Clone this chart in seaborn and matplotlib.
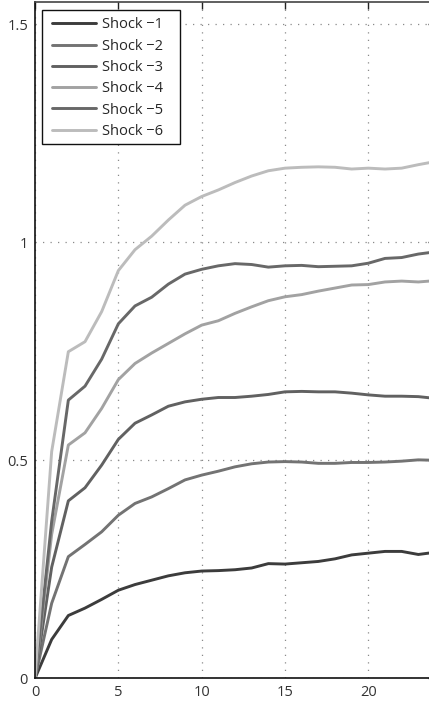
import numpy as np
import pandas as pd
import matplotlib
matplotlib.use("Agg")
import matplotlib.pyplot as plt
from matplotlib.patches import Rectangle
import seaborn as sns

# Horizon (periods after the shock)
periods = list(range(25))

# Cumulative responses, one list per shock size
shock_1 = [0.0, 0.089, 0.144, 0.161, 0.181, 0.202, 0.215, 0.225, 0.235, 0.242,
           0.246, 0.247, 0.249, 0.253, 0.263, 0.262, 0.265, 0.268, 0.274, 0.283,
           0.287, 0.291, 0.291, 0.284, 0.289]
shock_2 = [0.0, 0.172, 0.279, 0.307, 0.336, 0.374, 0.401, 0.416, 0.435, 0.455,
           0.466, 0.475, 0.485, 0.492, 0.496, 0.497, 0.496, 0.493, 0.493, 0.495,
           0.495, 0.496, 0.498, 0.501, 0.500]
shock_3 = [0.0, 0.255, 0.407, 0.437, 0.489, 0.548, 0.585, 0.604, 0.624, 0.634,
           0.640, 0.644, 0.644, 0.647, 0.651, 0.657, 0.658, 0.657, 0.657, 0.654,
           0.650, 0.647, 0.647, 0.646, 0.642]
shock_4 = [0.0, 0.330, 0.535, 0.563, 0.619, 0.685, 0.722, 0.746, 0.768, 0.790,
           0.810, 0.820, 0.837, 0.852, 0.866, 0.875, 0.880, 0.888, 0.895, 0.902,
           0.903, 0.909, 0.911, 0.909, 0.912]
shock_5 = [0.0, 0.360, 0.638, 0.670, 0.732, 0.813, 0.854, 0.874, 0.904, 0.927,
           0.938, 0.946, 0.951, 0.949, 0.943, 0.946, 0.947, 0.944, 0.945, 0.946,
           0.952, 0.963, 0.965, 0.973, 0.978]
shock_6 = [0.0, 0.520, 0.749, 0.772, 0.841, 0.935, 0.983, 1.014, 1.051, 1.085,
           1.105, 1.120, 1.137, 1.152, 1.164, 1.170, 1.172, 1.173, 1.172, 1.168,
           1.170, 1.168, 1.170, 1.178, 1.185]

labels = ["Shock \u22121", "Shock \u22122", "Shock \u22123",
          "Shock \u22124", "Shock \u22125", "Shock \u22126"]
series = [shock_1, shock_2, shock_3, shock_4, shock_5, shock_6]
colors = ["#3c3c3c", "#737373", "#616161", "#a2a2a2", "#686868", "#bcbcbc"]

xticks = [0, 5, 10, 15, 20]
yticks = [0, 0.5, 1, 1.5]
ytick_labels = ["0", "0.5", "1", "1.5"]

df = pd.concat(
    [pd.DataFrame({"period": periods, "response": s, "shock": lab})
     for s, lab in zip(series, labels)],
    ignore_index=True,
)

sns.set_style("white")
plt.rcParams["font.family"] = ["Open Sans", "DejaVu Sans"]

W, H = 429, 704
fig = plt.figure(figsize=(W / 100, H / 100), dpi=100)
ax = fig.add_axes([0.0816, 0.0365, 0.9324, 0.96])

sns.lineplot(data=df, x="period", y="response", hue="shock",
             palette=dict(zip(labels, colors)), linewidth=2.1,
             ax=ax, legend=True)

ax.set_xlim(0, 24)
ax.set_ylim(0, 1.55)
ax.set_xticks(xticks)
ax.set_xticklabels([str(t) for t in xticks])
ax.set_yticks(yticks)
ax.set_yticklabels(ytick_labels)
ax.set_xlabel("")
ax.set_ylabel("")

ax.grid(True, color="#8a8a8a", linestyle=(0, (1, 5)), linewidth=0.9)
ax.tick_params(axis="both", direction="in", length=5, width=1,
               top=True, right=True, labelsize=10.5, labelcolor="#333333",
               colors="#222222", pad=5)
for side in ["left", "bottom"]:
    ax.spines[side].set_color("#111111")
    ax.spines[side].set_linewidth(1.2)
for side in ["top", "right"]:
    ax.spines[side].set_color("#444444")
    ax.spines[side].set_linewidth(1.2)

# Legend box: white panel with a thin black outline, wider than its entries
box = Rectangle((42 / W, 1 - 144 / H), 138 / W, 134 / H,
                transform=fig.transFigure, facecolor="white",
                edgecolor="#111111", linewidth=1.0, zorder=4, clip_on=False)
ax.add_patch(box)

leg = ax.legend(loc="upper left", bbox_to_anchor=(52 / W, 1 - 17.5 / H),
                bbox_transform=fig.transFigure, frameon=False,
                fontsize=10.5, handlelength=3.05, handletextpad=0.35,
                labelspacing=0.43, borderpad=0.0, borderaxespad=0.0)
leg.set_zorder(5)
for line in leg.get_lines():
    line.set_linewidth(2.1)

fig.savefig("out.png", dpi=100)
